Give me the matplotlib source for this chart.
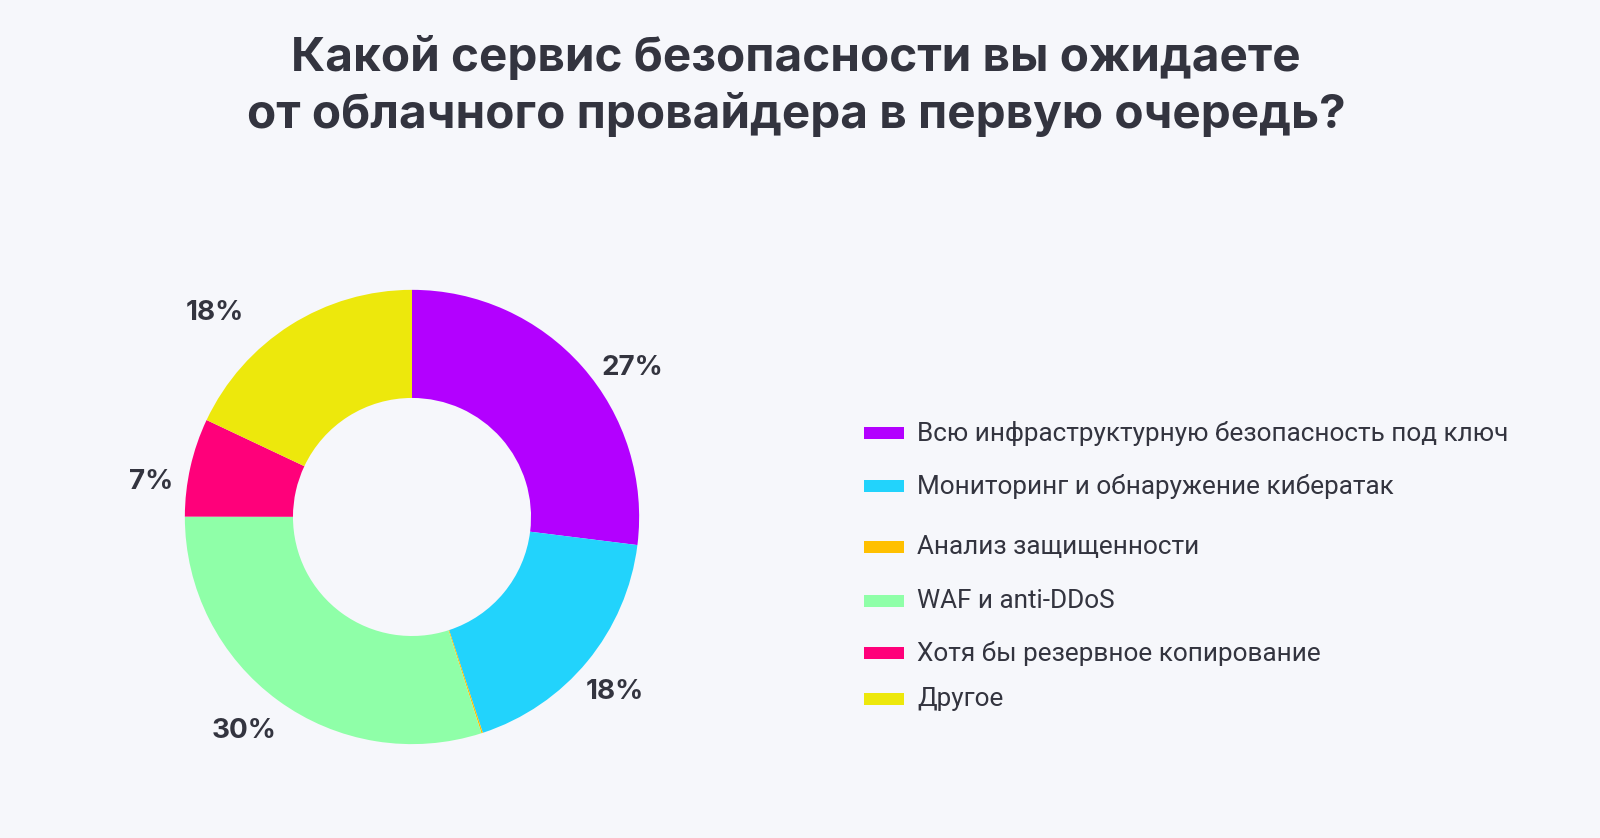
import numpy as np
import matplotlib.pyplot as plt
from matplotlib.patches import Rectangle

# Данные
categorias = [
    "Всю инфраструктурную безопасность под ключ",
    "Мониторинг и обнаружение кибератак",
    "Анализ защищенности",
    "WAF и anti-DDoS",
    "Хотя бы резервное копирование",
    "Другое",
]
valores = [27, 18, 0.1, 30, 7, 18]
etiquetas = ["27%", "18%", "", "30%", "7%", "18%"]
colores = ["#b300ff", "#22d3fc", "#ffc000", "#8fffa8", "#ff007a", "#ede80c"]

titulo = "Какой сервис безопасности вы ожидаете\nот облачного провайдера в первую очередь?"

# Ajustes de posición de las etiquetas (grados, radio relativo)
desfase_ang = [7.4, 1.4, 0, 2.0, -5.0, -11.6]
radio_etq = [1.17, 1.18, 0, 1.2, 1.16, 1.25]

fondo = "#f6f7fb"
texto_oscuro = "#33343f"

fig = plt.figure(figsize=(16, 8.38), dpi=100, facecolor=fondo)

# Donut
ax = fig.add_axes([0.05875, 0.00358, 0.3975, 0.759])
ax.set_facecolor(fondo)
wedges, _ = ax.pie(valores, colors=colores, startangle=90, counterclock=False,
                   radius=1, wedgeprops=dict(width=0.476, linewidth=0))
ax.set_xlim(-1.4, 1.4)
ax.set_ylim(-1.4, 1.4)
ax.axis('off')

total = sum(valores)
acum = 0
for v, etq, d, r in zip(valores, etiquetas, desfase_ang, radio_etq):
    medio = (acum + v / 2) / total * 360
    acum += v
    if not etq:
        continue
    th = np.deg2rad(medio + d)
    ax.text(r * np.sin(th), r * np.cos(th), etq, ha='center', va='center',
            fontsize=20, fontweight='bold', family='Inter', color=texto_oscuro)

# Leyenda manual
filas_y = [433, 486, 547, 601, 653, 699]
for cat, col, yp in zip(categorias, colores, filas_y):
    yf = 1 - yp / 838
    fig.add_artist(Rectangle((864 / 1600, yf - 6 / 838), 40 / 1600, 12 / 838,
                             transform=fig.transFigure, color=col, lw=0))
    fig.text(917 / 1600, yf, cat, ha='left', va='center', fontsize=18.8,
             family='Roboto', color=texto_oscuro)

# Título
fig.text(0.4975, 1 - 87 / 838, titulo, ha='center', va='center', fontsize=34.3,
         fontweight='bold', family='Inter', color=texto_oscuro, linespacing=1.35)

fig.savefig("out.png", dpi=100, facecolor=fondo)
